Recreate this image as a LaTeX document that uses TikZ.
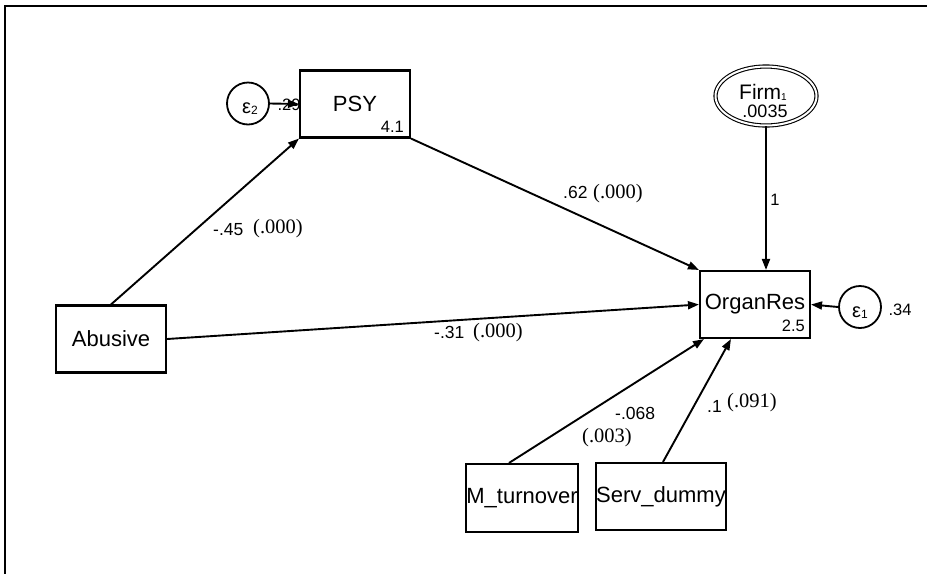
\documentclass[tikz,border=0pt]{standalone}
\usepackage{fontspec}
\setmainfont{Liberation Sans}
\newfontfamily\tms{Liberation Serif}
\usetikzlibrary{arrows.meta,calc,shapes.geometric}
\begin{document}
\begin{tikzpicture}[x=1pt,y=-1pt,
  box/.style={draw,line width=2.1pt,rectangle,inner sep=0pt,minimum width=110pt,minimum height=67pt,font=\fontsize{22}{26}\selectfont},
  errc/.style={draw,line width=1.8pt,circle,minimum size=42pt,inner sep=0pt},
  arr/.style={line width=1.9pt,-{Triangle[length=11pt,width=8pt]}},
  txt/.style={inner sep=0pt,anchor=base},
  small/.style={inner sep=0pt,font=\fontsize{16.5}{18}\selectfont},
  coef/.style={inner sep=0pt,anchor=base west,font=\fontsize{17.5}{20}\selectfont},
  pval/.style={inner sep=0pt,anchor=base west,font=\tms\fontsize{20.5}{22}\selectfont}]
\useasboundingbox (0,0) rectangle (927,574);
\draw[line width=2.2pt] (927,6) -- (5,6) -- (5,574);

% boxes
\node[box] (psy) at (355,104) {PSY};
\node[small,anchor=base east] (psyc) at (404,132) {4.1};
\node[box] (org) at (755,304.5) {OrganRes};
\node[small,anchor=base east] (orgc) at (805,331) {2.5};
\node[box] (abu) at (111,339) {Abusive};
\node[box,minimum height=68pt] (mt) at (522,498) {M\_turnover};
\node[box] (sd) at (661,496.5) {Serv\_dummy};

% latent
\node[ellipse,draw,double,line width=1.1pt,double distance=2pt,minimum width=101pt,minimum height=59pt,inner sep=0pt] (firm) at (766,96) {};
\node[txt,font=\fontsize{21}{24}\selectfont] (firmt) at (763,99.5) {Firm\raisebox{-1pt}{\fontsize{10}{12}\selectfont 1}};
\node[txt,font=\fontsize{18}{20}\selectfont] (firmv) at (765,117.5) {.0035};

% error terms
\node[errc] (e2) at (248,103.5) {};
\node[txt,font=\fontsize{20}{22}\selectfont] (e2t) at (250,113) {ε\raisebox{-1.5pt}{\fontsize{12}{14}\selectfont 2}};
\node[errc] (e1) at (860,307) {};
\node[txt,font=\fontsize{20}{22}\selectfont] (e1t) at (860,317) {ε\raisebox{-1.5pt}{\fontsize{12}{14}\selectfont 1}};

% connectors
\draw[arr] (e2.east) -- (psy.west);
\draw[arr] (e1.west) -- (org.east);
\draw[arr] (firm.south) -- (firm.south |- org.north);
\draw[arr] (abu.north) -- (psy.south west);
\draw[arr] (psy.south east) -- (org.north west);
\draw[arr] (abu.east) -- (org.west);
\draw[arr] ($(mt.north)+(-13,0)$) -- ($(org.south west)+(5,0)$);
\draw[arr] ($(sd.north)+(2,0)$) -- ($(org.south west)+(32,0)$);

% labels
\node[small,anchor=base] (e2v) at (289,110) {.29};
\node[small,anchor=base] (e1v) at (900,315) {.34};
\node[small,anchor=base] (fl) at (775,205) {1};
\node[coef] (c1) at (213,235) {-.45};
\node[pval] (p1) at (253,233) {(.000)};
\node[coef] (c2) at (563,198) {.62};
\node[pval] (p2) at (593,198) {(.000)};
\node[coef] (c3) at (434,338) {-.31};
\node[pval] (p3) at (473,337) {(.000)};
\node[coef] (c4) at (615,419) {-.068};
\node[pval] (p4) at (582,442) {(.003)};
\node[coef] (c5) at (707,412) {.1};
\node[pval] (p5) at (727,407) {(.091)};
\end{tikzpicture}
\end{document}
